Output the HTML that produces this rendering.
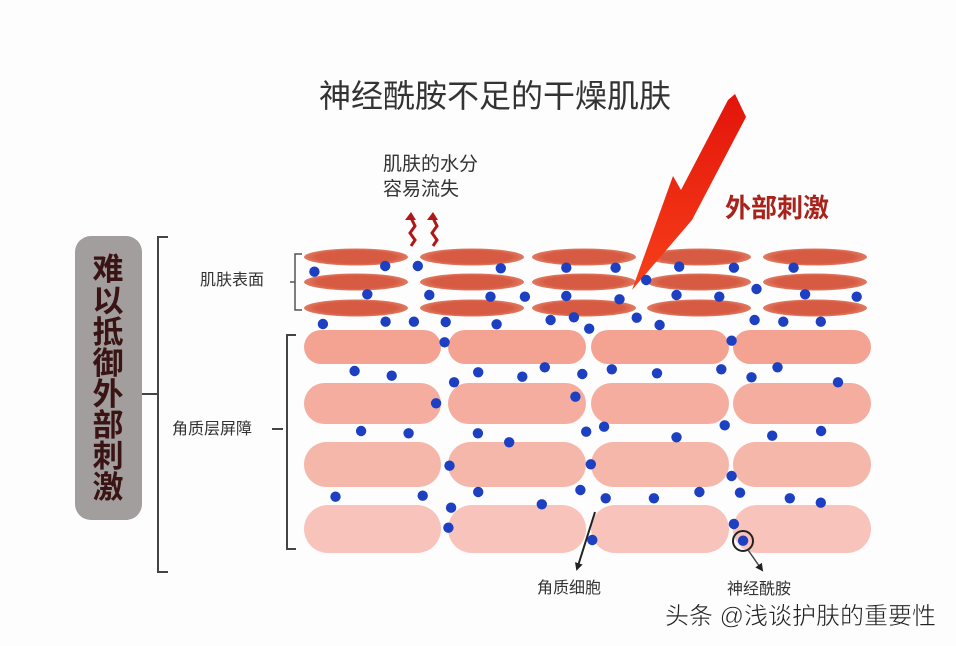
<!DOCTYPE html>
<html><head><meta charset="utf-8"><style>
html,body{margin:0;padding:0;background:#fdfdfd;}
svg{display:block}
text{font-family:"Liberation Sans","Noto Sans CJK SC",sans-serif;}
</style></head><body>
<svg id="s" width="956" height="646" viewBox="0 0 956 646" xmlns="http://www.w3.org/2000/svg">
<defs>
<linearGradient id="bolt" x1="0" y1="0" x2="0" y2="1"><stop offset="0" stop-color="#e3140a"/><stop offset="1" stop-color="#f7401a"/></linearGradient>
<radialGradient id="ell" cx="0.5" cy="0.5" r="0.5"><stop offset="0.75" stop-color="#d65b42"/><stop offset="1" stop-color="#e07a62"/></radialGradient>
<marker id="ah" markerWidth="8" markerHeight="8" refX="6" refY="4" orient="auto" markerUnits="userSpaceOnUse"><path d="M0,0 L8,4 L0,8 z" fill="#222"/></marker>
</defs>
<text x="495" y="107" font-size="32" fill="#333" text-anchor="middle">神经酰胺不足的干燥肌肤</text>
<text x="383" y="170" font-size="19" fill="#333">肌肤的水分</text>
<text x="383" y="195" font-size="19" fill="#333">容易流失</text>
<path d="M411,246 l4,-6 l-5,-7 l5,-7 l-4,-8" stroke="#b01818" stroke-width="3" fill="none"/>
<path d="M405,220 l6,-8 l5,8" fill="#b01818"/>
<path d="M433,246 l4,-6 l-5,-7 l5,-7 l-4,-8" stroke="#b01818" stroke-width="3" fill="none"/>
<path d="M427,220 l6,-8 l5,8" fill="#b01818"/>
<text x="725" y="217" font-size="26" font-weight="bold" fill="#a8231b">外部刺激</text>
<rect x="75" y="236" width="67" height="284" rx="16" fill="#a19e9d"/>
<g font-size="31" fill="#3a1414" font-weight="bold" text-anchor="middle">
<text x="108" y="280">难</text><text x="108" y="312">以</text><text x="108" y="343">抵</text><text x="108" y="374">御</text><text x="108" y="405">外</text><text x="108" y="436">部</text><text x="108" y="467">刺</text><text x="108" y="498">激</text>
</g>
<path d="M168,237 H158 V572 H168 M142,394 H158" stroke="#444" stroke-width="2" fill="none"/>
<text x="200" y="285" font-size="16" fill="#333">肌肤表面</text>
<path d="M302,254 H295 V310 H302 M290,282 H295" stroke="#555" stroke-width="1.5" fill="none"/>
<text x="172" y="434" font-size="16" fill="#333">角质层屏障</text>
<path d="M272,429 H283" stroke="#444" stroke-width="2"/>
<path d="M296,335 H287 V549 H296" stroke="#444" stroke-width="2" fill="none"/>
<g id="ells"></g>
<g id="pills"></g>
<polygon points="735,94 746,117 692,220 632,290 673,176 681,190 728,100" fill="url(#bolt)"/>
<g id="dots" fill="#1d3fc2"></g>
<circle cx="743" cy="541" r="10" fill="none" stroke="#222" stroke-width="2"/>
<line x1="595" y1="512" x2="577" y2="569" stroke="#222" stroke-width="2" marker-end="url(#ah)"/>
<line x1="748" y1="550" x2="762" y2="570" stroke="#444" stroke-width="1.5" marker-end="url(#ah)"/>
<text x="537" y="593" font-size="16" fill="#333">角质细胞</text>
<text x="727" y="594" font-size="16" fill="#333">神经酰胺</text>
<text x="665" y="624" font-size="24" fill="#222" stroke="#fff" stroke-width="0.5">头条 @浅谈护肤的重要性</text>
</svg>
<script>
var NS="http://www.w3.org/2000/svg";
function mk(t,a,p){var e=document.createElementNS(NS,t);for(var k in a)e.setAttribute(k,a[k]);document.getElementById(p).appendChild(e);}
[356,472,584,699,815].forEach(function(cx){[257,282,308].forEach(function(cy){mk("ellipse",{cx:cx,cy:cy,rx:52,ry:8.5,fill:"url(#ell)"},"ells");});});
var rows=[[330,364,"#f4a392"],[383,424,"#f5ada0"],[442,487,"#f6b7ab"],[505,553,"#f8c3ba"]];
var cols=[[304,441],[448,586],[591,729],[733,871]];
rows.forEach(function(r){cols.forEach(function(c){var h=r[1]-r[0];mk("rect",{x:c[0],y:r[0],width:c[1]-c[0],height:h,rx:h/2,fill:r[2]},"pills");});});
var d=[90,125,275,108,360,108,577,115,748,113,877,113,1043,110,1186,113,1342,113,
228,193,390,195,550,200,640,200,748,198,887,208,957,150,1036,195,1148,200,1245,177,1372,193,1507,200,
112,282,276,275,350,275,433,276,566,283,707,270,768,262,808,296,932,263,992,285,1240,270,1315,275,1413,275,
430,337,1180,332,
195,423,292,437,455,457,518,427,633,440,692,412,790,432,867,418,985,430,1153,418,1232,442,1300,412,1458,457,
408,520,772,500,
212,603,336,610,517,610,599,637,800,605,847,590,1036,622,1162,586,1286,617,1414,603,
443,707,812,703,1180,738,
145,800,373,797,518,786,684,823,785,780,851,805,977,805,1096,786,1202,788,1332,805,1413,818,
447,833,440,893,816,930,1186,882,1210,932];
for(var i=0;i<d.length;i+=2){mk("circle",{cx:(280+d[i]/2.613).toFixed(1),cy:(230+d[i+1]/3).toFixed(1),r:5.2},"dots");}
</script>
</body></html>
